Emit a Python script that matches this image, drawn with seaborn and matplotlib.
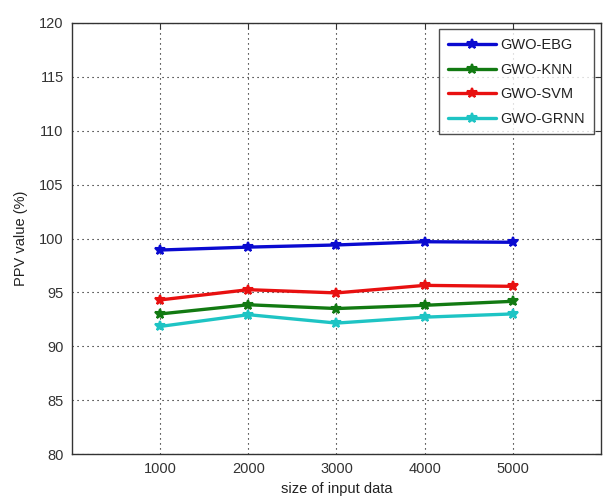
import matplotlib
matplotlib.use("Agg")
import matplotlib.pyplot as plt
import seaborn as sns
import pandas as pd

sizes = [1000, 2000, 3000, 4000, 5000]
series_names = ["GWO-EBG", "GWO-KNN", "GWO-SVM", "GWO-GRNN"]
ebg = [98.93, 99.2, 99.4, 99.7, 99.65]
knn = [93.0, 93.85, 93.5, 93.8, 94.17]
svm = [94.3, 95.25, 94.95, 95.65, 95.56]
grnn = [91.84, 92.93, 92.15, 92.7, 93.0]
colors = ["#0a0ad0", "#127a12", "#e81010", "#1ec4c4"]

sns.set_style("white")
plt.rcParams["font.family"] = ["Liberation Sans", "DejaVu Sans"]

df = pd.concat([
    pd.DataFrame({"size": sizes, "value": vals, "series": name})
    for name, vals in zip(series_names, [ebg, knn, svm, grnn])
])

fig = plt.figure(figsize=(6.04, 5.01), dpi=100)
ax = fig.add_axes([72/604, 47/501, 529/604, 431/501])

for name, col in zip(series_names, colors):
    sub = df[df["series"] == name]
    sns.lineplot(data=sub, x="size", y="value", ax=ax, color=col, linewidth=2.4,
                 marker="*", markersize=7.5, markeredgewidth=1.5, markeredgecolor=col,
                 label=name, legend=False)

ax.set_xlim(0, 6000)
ax.set_ylim(80, 120)
ax.set_xticks(sizes)
ax.set_yticks(list(range(80, 121, 5)))
ax.grid(True, color="black", linestyle=(0, (1, 3.5)), linewidth=0.8)
ax.tick_params(direction="in", length=4, width=0.8, labelsize=10.5, colors="#333333",
               top=True, right=True, pad=6)
for s in ax.spines.values():
    s.set_color("#333333")
    s.set_linewidth(1.0)
ax.set_xlabel("size of input data", fontsize=10.5, labelpad=4, color="#222222")
ax.set_ylabel("PPV value (%)", fontsize=10.5, labelpad=8, color="#222222")

leg = ax.legend(loc="upper right", bbox_to_anchor=(0.987, 0.985), fontsize=10.5,
                frameon=True, fancybox=False, edgecolor="#222222", handlelength=3.3,
                borderpad=0.6, labelspacing=0.72, handletextpad=0.3, borderaxespad=0)
leg.get_frame().set_linewidth(1.0)
for t in leg.get_texts():
    t.set_color("#222222")

fig.savefig("out.png", dpi=100)
